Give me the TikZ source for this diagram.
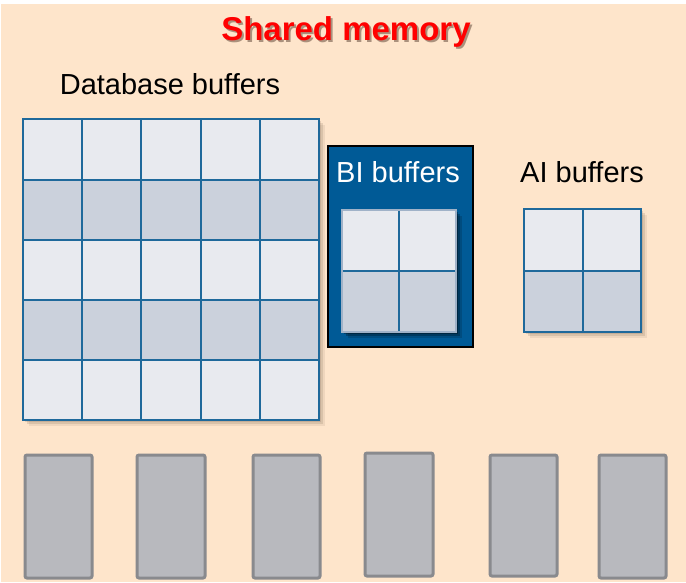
\documentclass[tikz,border=0pt]{standalone}
\usepackage{fontspec}
\setmainfont{Liberation Sans}
\definecolor{bg}{RGB}{254,229,203}
\definecolor{gridline}{RGB}{31,105,155}
\definecolor{celllight}{RGB}{232,234,239}
\definecolor{celldark}{RGB}{203,209,220}
\definecolor{biblue}{RGB}{0,90,150}
\definecolor{innerborder}{RGB}{160,178,200}
\definecolor{procfill}{RGB}{184,185,190}
\definecolor{procline}{RGB}{137,138,142}
\definecolor{shadowc}{RGB}{110,90,70}
\definecolor{titleshade}{RGB}{170,145,125}
\definecolor{titlered}{RGB}{255,0,0}
\begin{document}
\begin{tikzpicture}[x=1pt,y=-1pt,
  gline/.style={draw=gridline,line width=2pt},
  procbox/.style={draw=procline,fill=procfill,line width=3pt,rounded corners=2pt},
  label/.style={inner sep=0pt,font=\fontsize{29}{34}\selectfont},
  titletext/.style={inner sep=0pt,font=\fontsize{33}{40}\selectfont\bfseries}]
\useasboundingbox (0,0) rectangle (686,583);
\fill[bg] (1,4) rectangle (686,582);

% ---------- title and labels
\node[titletext] (title) at (346,33)
  {\makebox[0pt][l]{\hspace{2pt}\raisebox{-2pt}{\textcolor{titleshade}{Shared memory}}}\textcolor{titlered}{Shared memory}};
\node[label] (dblabel) at (170,84) {Database buffers};

% ---------- database buffers grid
\foreach \d/\op in {2/0.18,4/0.16,6/0.10}
  \fill[shadowc,opacity=\op] (23+\d,119.5+\d) rectangle (319+\d,420+\d);
\foreach \j in {0,...,4}{
  \foreach \i in {0,...,4}{
    \ifodd\j
      \fill[celldark] (23+\i*59.2,119.5+\j*60.1) rectangle (23+\i*59.2+59.2,119.5+\j*60.1+60.1);
    \else
      \fill[celllight] (23+\i*59.2,119.5+\j*60.1) rectangle (23+\i*59.2+59.2,119.5+\j*60.1+60.1);
    \fi
  }
}
\foreach \i in {1,...,4}{
  \draw[gline] (23+\i*59.2,119.5) -- (23+\i*59.2,420);
  \draw[gline] (23,119.5+\i*60.1) -- (319,119.5+\i*60.1);
}
\draw[gline] (23,119.5) rectangle (319,420);

% ---------- BI buffers
\node[draw=black,line width=1.6pt,fill=biblue,minimum width=145pt,minimum height=201pt,
      anchor=north west,inner sep=0pt] (bibox) at (327,145) {};
\node[label,text=white] (bilabel) at (398,172) {BI buffers};
\foreach \d/\op in {2/0.30,4/0.25,6/0.15}
  \fill[black,opacity=\op] (342+\d,210+\d) rectangle (456+\d,332+\d);
\fill[celllight] (342,210) rectangle (456,271);
\fill[celldark] (342,271) rectangle (456,332);
\draw[gline] (399,210) -- (399,332);
\draw[gline] (342,271) -- (456,271);
\draw[draw=innerborder,line width=1.2pt] (342,210) rectangle (456,332);

% ---------- AI buffers
\node[label] (ailabel) at (582,172) {AI buffers};
\foreach \d/\op in {2/0.18,4/0.16,6/0.10}
  \fill[shadowc,opacity=\op] (524+\d,209+\d) rectangle (641+\d,332+\d);
\fill[celllight] (524,209) rectangle (641,270.5);
\fill[celldark] (524,270.5) rectangle (641,332);
\draw[gline] (583,209) -- (583,332);
\draw[gline] (524,270.5) -- (641,270.5);
\draw[gline] (524,209) rectangle (641,332);

% ---------- process boxes
\foreach \xa/\xb/\ya/\yb in {25/92/455/578,137/205/455/578,253/320/455/578,
                             365/433/453/576,490/557/455/576,599/666/455/578}
  \draw[procbox] (\xa,\ya) rectangle (\xb,\yb);
\end{tikzpicture}
\end{document}
